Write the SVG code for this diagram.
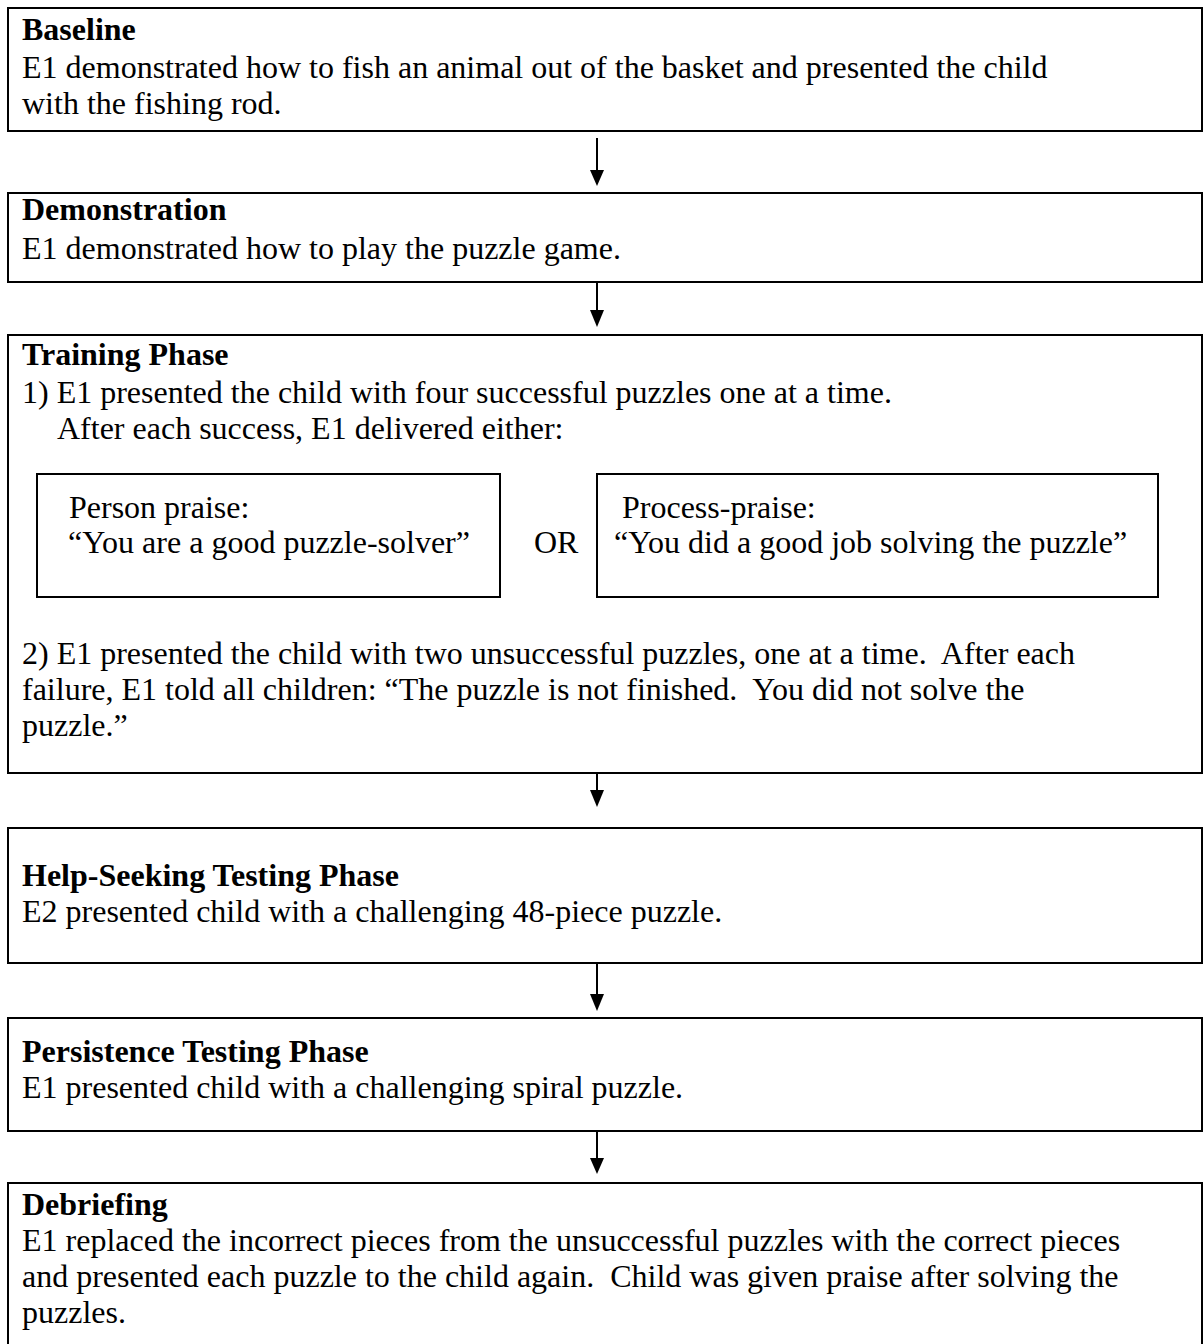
<svg xmlns="http://www.w3.org/2000/svg" width="1203" height="1344" viewBox="0 0 1203 1344">
<defs>
<style>
.box{fill:#fff;stroke:#000;stroke-width:2}
.t{font-family:"Liberation Serif","Times New Roman",serif;font-size:32px;fill:#000;white-space:pre}
.b{font-weight:bold}
.c{stroke:#000;stroke-width:2;fill:none}
</style>
</defs>
<rect width="1203" height="1344" fill="#fff"/>
<g id="connectors">
<line class="c" x1="597" y1="138" x2="597" y2="172"/><path d="M590,170 L604,170 L597,186 Z"/>
<line class="c" x1="597" y1="280" x2="597" y2="312"/><path d="M590,310 L604,310 L597,327 Z"/>
<line class="c" x1="597" y1="762" x2="597" y2="792"/><path d="M590,790 L604,790 L597,807 Z"/>
<line class="c" x1="597" y1="963" x2="597" y2="996"/><path d="M590,994 L604,994 L597,1011 Z"/>
<line class="c" x1="597" y1="1131" x2="597" y2="1160"/><path d="M590,1158 L604,1158 L597,1174 Z"/>
</g>
<g id="baseline">
<rect class="box" x="8" y="8" width="1194" height="123"/>
<text class="t b" x="22" y="40">Baseline</text>
<text class="t" x="22" y="78">E1 demonstrated how to fish an animal out of the basket and presented the child</text>
<text class="t" x="22" y="114">with the fishing rod.</text>
</g>
<g id="demonstration">
<rect class="box" x="8" y="193" width="1194" height="89"/>
<text class="t b" x="22" y="220">Demonstration</text>
<text class="t" x="22" y="259">E1 demonstrated how to play the puzzle game.</text>
</g>
<g id="training">
<rect class="box" x="8" y="335" width="1194" height="438"/>
<text class="t b" x="22" y="365">Training Phase</text>
<text class="t" x="22" y="403">1) E1 presented the child with four successful puzzles one at a time.</text>
<text class="t" x="57" y="439">After each success, E1 delivered either:</text>
<text class="t" x="534" y="553">OR</text>
<text class="t" x="22" y="664">2) E1 presented the child with two unsuccessful puzzles, one at a time.  After each</text>
<text class="t" x="22" y="700">failure, E1 told all children: “The puzzle is not finished.  You did not solve the</text>
<text class="t" x="22" y="736">puzzle.”</text>
</g>
<g id="person-praise">
<rect class="box" x="37" y="474" width="463" height="123"/>
<text class="t" x="69" y="518">Person praise:</text>
<text class="t" x="68" y="553">“You are a good puzzle-solver”</text>
</g>
<g id="process-praise">
<rect class="box" x="597" y="474" width="561" height="123"/>
<text class="t" x="622" y="518">Process-praise:</text>
<text class="t" x="614" y="553">“You did a good job solving the puzzle”</text>
</g>
<g id="help-seeking">
<rect class="box" x="8" y="828" width="1194" height="135"/>
<text class="t b" x="22" y="886">Help-Seeking Testing Phase</text>
<text class="t" x="22" y="922">E2 presented child with a challenging 48-piece puzzle.</text>
</g>
<g id="persistence">
<rect class="box" x="8" y="1018" width="1194" height="113"/>
<text class="t b" x="22" y="1062">Persistence Testing Phase</text>
<text class="t" x="22" y="1098">E1 presented child with a challenging spiral puzzle.</text>
</g>
<g id="debriefing">
<rect class="box" x="8" y="1183" width="1194" height="170"/>
<text class="t b" x="22" y="1215">Debriefing</text>
<text class="t" x="22" y="1251">E1 replaced the incorrect pieces from the unsuccessful puzzles with the correct pieces</text>
<text class="t" x="22" y="1287">and presented each puzzle to the child again.  Child was given praise after solving the</text>
<text class="t" x="22" y="1323">puzzles.</text>
</g>
</svg>
